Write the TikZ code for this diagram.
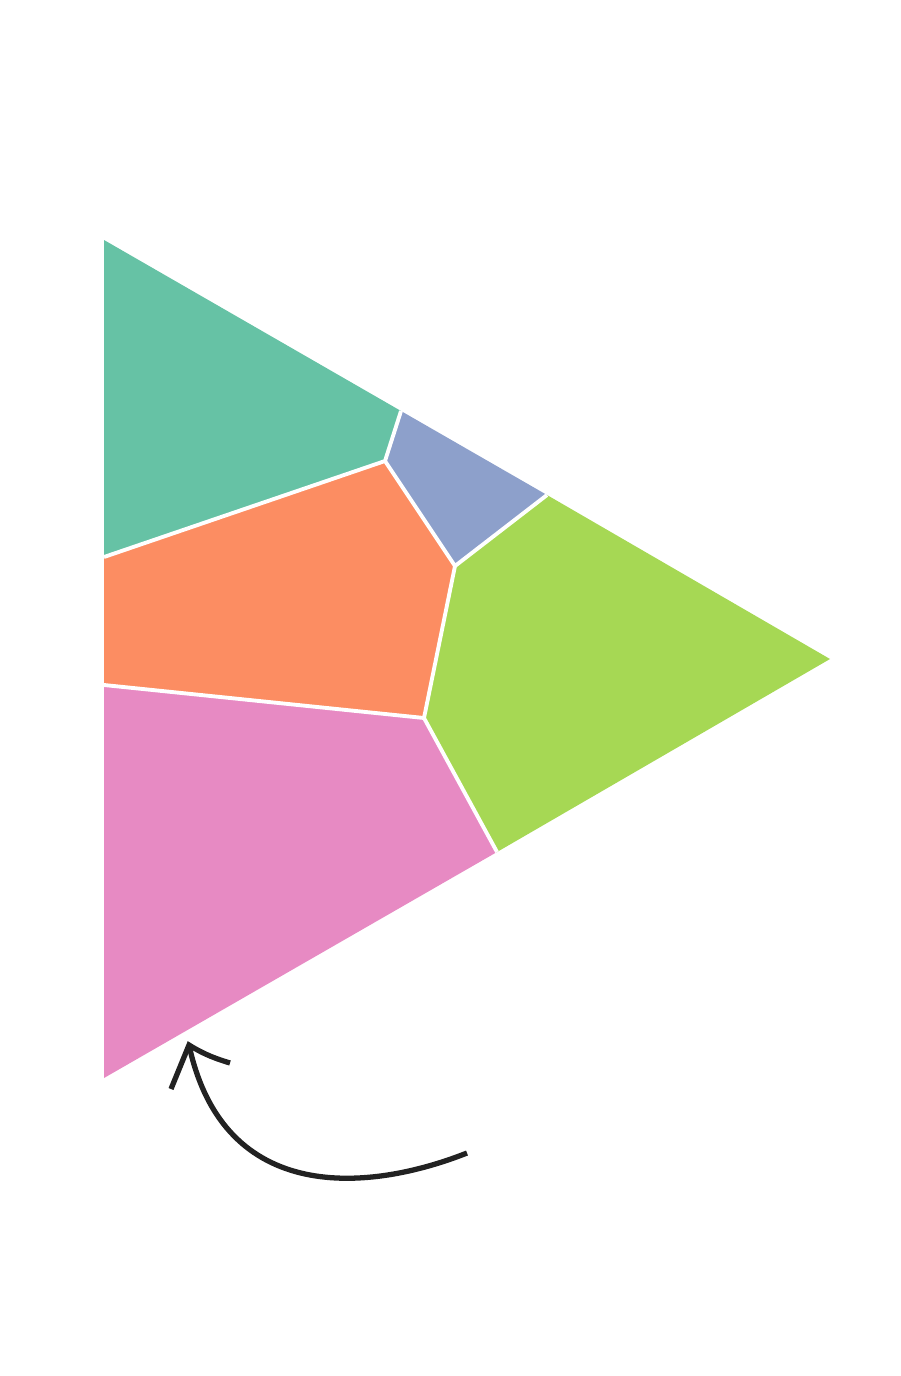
\documentclass[tikz,border=0pt]{standalone}
\definecolor{cellteal}{HTML}{66C2A5}
\definecolor{cellblue}{HTML}{8DA0CB}
\definecolor{cellorange}{HTML}{FC8D62}
\definecolor{cellgreen}{HTML}{A6D854}
\definecolor{cellpink}{HTML}{E78AC3}
\definecolor{inkdark}{HTML}{222222}
\begin{document}
\begin{tikzpicture}[
        x=0.01cm, y=-0.01cm,
        border/.style={draw=white, line width=1.1pt, line join=round},
        turn/.style={draw=inkdark, line width=1.5pt, line join=miter},
    ]
    \useasboundingbox (0,0) rectangle (900,1376);

    % === TRIANGLE CORNERS ===
    \coordinate (ctop) at (104,240);
    \coordinate (cright) at (830,659);
    \coordinate (cbot) at (104,1078);

    % === POINTS ON THE EDGES ===
    \coordinate (e1) at (401,411);
    \coordinate (e2) at (547,495);
    \coordinate (e3) at (497,852);
    \coordinate (l1) at (104,557);
    \coordinate (l2) at (104,685);

    % === INNER POINTS ===
    \coordinate (q1) at (385,461);
    \coordinate (q2) at (455,566);
    \coordinate (q3) at (424,718);

    % === CELLS ===
    \fill[cellteal] (ctop) -- (e1) -- (q1) -- (l1) -- cycle;
    \fill[cellblue] (e1) -- (e2) -- (q2) -- (q1) -- cycle;
    \fill[cellorange] (l1) -- (q1) -- (q2) -- (q3) -- (l2) -- cycle;
    \fill[cellgreen] (e2) -- (cright) -- (e3) -- (q3) -- (q2) -- cycle;
    \fill[cellpink] (l2) -- (q3) -- (e3) -- (cbot) -- cycle;

    % inner borders
    \draw[border] (e1) -- (q1) -- (l1);
    \draw[border] (q1) -- (q2) -- (e2);
    \draw[border] (q2) -- (q3) -- (l2);
    \draw[border] (q3) -- (e3);

    % === ROTATION ARROW ===
    \coordinate (astart) at (467,1153);
    \coordinate (atip) at (189,1045);
    \coordinate (barbl) at (171,1089);
    \coordinate (barbr) at (230,1063);
    \draw[turn] (astart) .. controls (371,1191) and (224,1207) .. (atip);
    \draw[turn] (barbl) -- (atip) .. controls (205,1055) and (217,1059) .. (barbr);

\end{tikzpicture}
\end{document}
